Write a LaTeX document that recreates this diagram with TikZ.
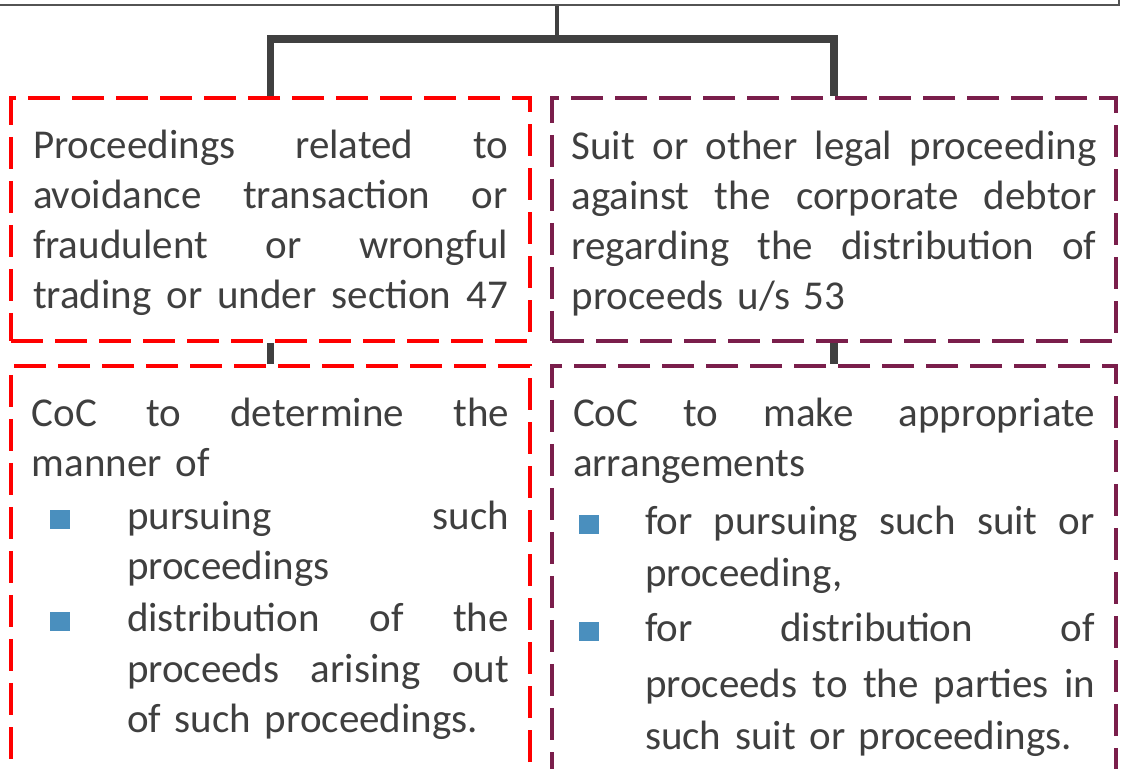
\documentclass[tikz,border=0pt]{standalone}
\usepackage{fontspec}
\setmainfont{Carlito}
\usepackage{tikz}
\definecolor{linkgray}{HTML}{404040}
\definecolor{textgray}{HTML}{3F3F3F}
\definecolor{plum}{HTML}{7A1E4B}
\definecolor{bulletblue}{HTML}{4A8FBE}
\setlength{\parindent}{0pt}
\newcommand{\jl}[1]{\leavevmode\hbox to \linewidth{\spaceskip=0.25em plus 1fil\relax #1}}
\newcommand{\sqbul}{\textcolor{bulletblue}{\rule{10pt}{9.5pt}}}
\newcommand{\bl}[3]{\leavevmode\hbox to \linewidth{\hbox to #1{\hspace{#2}\sqbul\hfil}\spaceskip=0.25em plus 1fil\relax #3}}
\newcommand{\cl}[2]{\leavevmode\hspace*{#1}#2}
\newcommand{\cj}[2]{\leavevmode\hbox to \linewidth{\hspace*{#1}\spaceskip=0.25em plus 1fil\relax #2}}

\begin{document}
\begin{tikzpicture}[x=0.5pt,y=-0.5pt,
    box/.style={draw,line width=1.8pt,dash pattern=on 16pt off 6pt,inner sep=0pt,
        align=left,text=textgray,font=\fontsize{20.5}{25}\selectfont},
    redbox/.style={box,color=red,text=textgray},
    plumbox/.style={box,color=plum,text=textgray},
    trunk/.style={draw=linkgray,line width=3.8pt},
    stem/.style={draw=linkgray,line width=2pt}]
    \clip (0,0) rectangle (1130,769);
    \node[draw=linkgray!90,line width=1pt,minimum width=562pt,minimum height=32.5pt] (cover) at (557,-27.5) {};
    \coordinate (fork) at (557,39);
    \node[redbox,minimum width=259.5pt,minimum height=121.5pt,text width=237.5pt] (avoid) at (270.5,219.5)
        {\jl{\rule{0pt}{18pt}Proceedings related to}\\
         \jl{avoidance transaction or}\\
         \jl{fraudulent or wrongful}\\
         \jl{trading or under section 47}};
    \node[plumbox,minimum width=282pt,minimum height=121.5pt,text width=262.5pt] (suit) at (834,219.5)
        {\jl{\rule{0pt}{18pt}Suit or other legal proceeding}\\
         \jl{against the corporate debtor}\\
         \jl{regarding the distribution of}\\
         proceeds u/s 53};
    \node[redbox,minimum width=259.5pt,minimum height=202.5pt,text width=238.5pt] (manner) at (270.5,568.5)
        {\jl{CoC to determine the}\\
         manner of\\[1.5pt]
         \bl{47.5pt}{9pt}{pursuing such}\\
         \cl{47.5pt}{proceedings}\\[1pt]
         \bl{47.5pt}{9pt}{distribution of the}\\[0.5pt]
         \cj{47.5pt}{proceeds arising out}\\
         \cl{47.5pt}{of such proceedings.}};
    \node[plumbox,minimum width=282pt,minimum height=211pt,text width=261pt] (arrange) at (834,577)
        {\jl{CoC to make appropriate}\\
         arrangements\\[4pt]
         \bl{36pt}{3pt}{for pursuing such suit or}\\[1pt]
         \cl{36pt}{proceeding,}\\[2.5pt]
         \bl{36pt}{3pt}{for distribution of}\\[3pt]
         \cj{36pt}{proceeds to the parties in}\\[1pt]
         \cl{36pt}{such suit or proceedings.}};
    \draw[stem] (cover.south) -- (fork);
    \draw[trunk] (avoid.north) |- (fork) -| (suit.north);
    \draw[trunk] (avoid.south) -- (manner.north);
    \draw[trunk] (suit.south) -- (arrange.north);
\end{tikzpicture}
\end{document}
